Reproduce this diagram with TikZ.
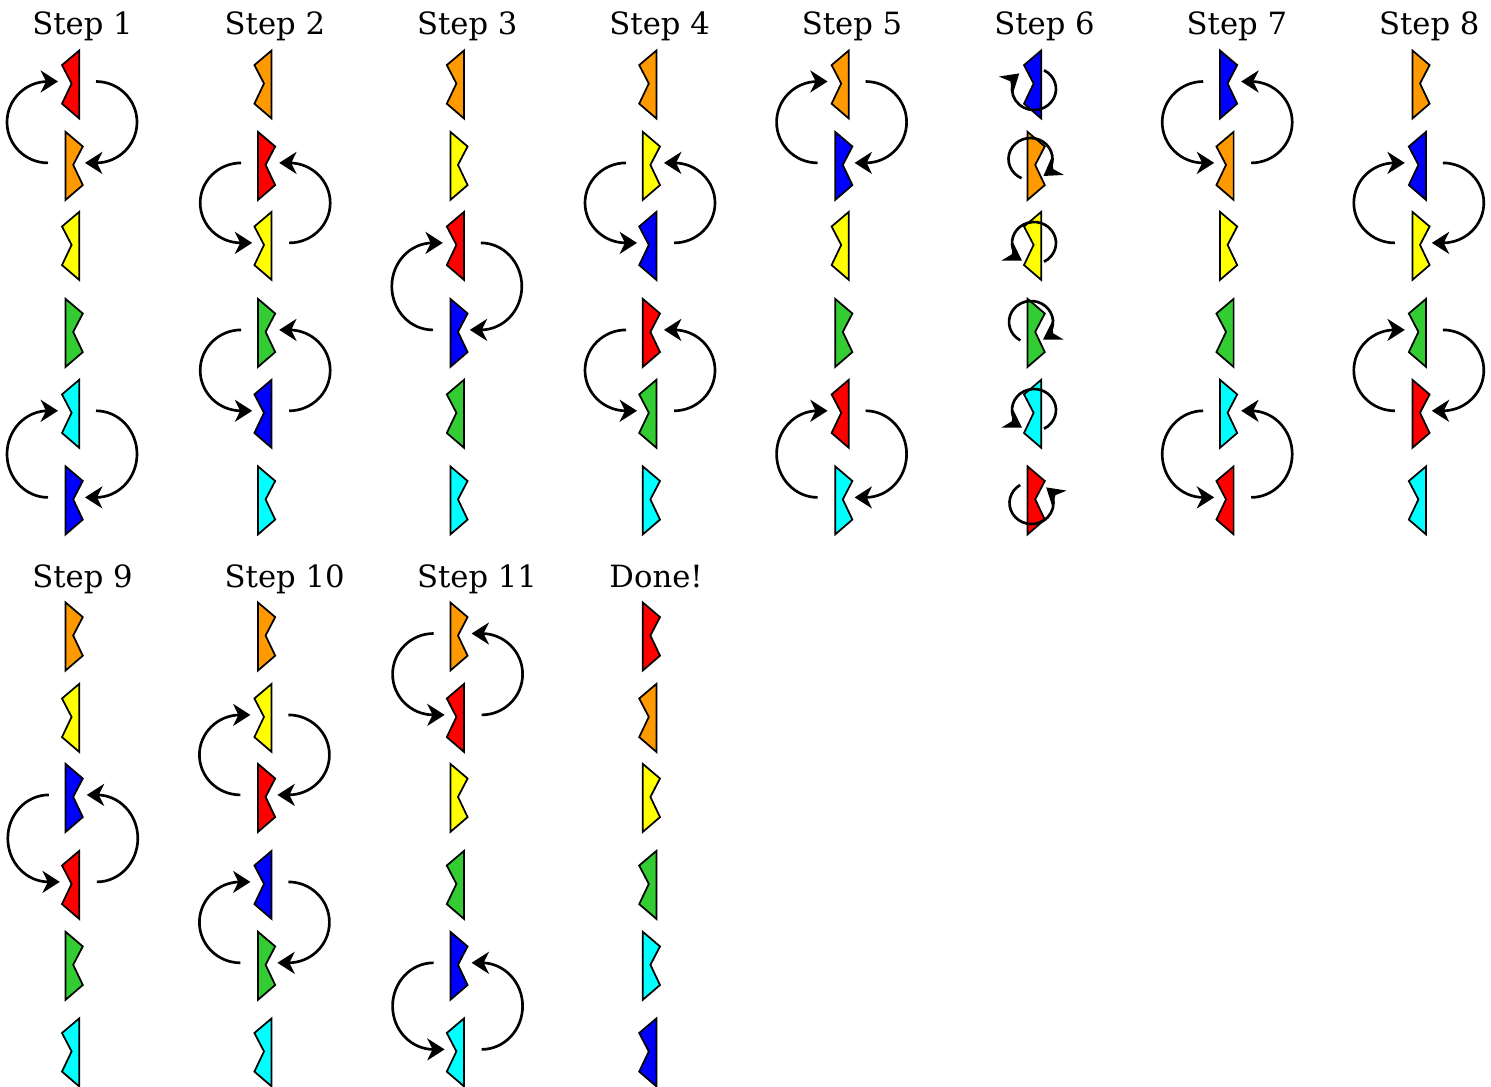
\documentclass[tikz,border=0pt]{standalone}
\usepackage{fontspec}
\setmainfont{DejaVu Serif}
\usetikzlibrary{arrows.meta}
\definecolor{pRed}{RGB}{255,0,0}
\definecolor{pOrange}{RGB}{255,153,0}
\definecolor{pYellow}{RGB}{255,255,0}
\definecolor{pGreen}{RGB}{51,204,51}
\definecolor{pCyan}{RGB}{0,255,255}
\definecolor{pBlue}{RGB}{0,0,255}
\tikzset{
  piece/.style={draw=black, line width=1.3pt, line join=miter},
  swaparrow/.style={line width=2pt, -{Stealth[length=13pt,width=16.5pt,inset=4pt]}},
  rotarrow/.style={line width=2pt, -{Stealth[length=13pt,width=16pt,inset=4pt]}},
  steplabel/.style={font=\fontsize{23}{27}\selectfont, anchor=base west, inner sep=0pt},
}
\begin{document}
\begin{tikzpicture}[x=0.75pt,y=0.75pt]
\useasboundingbox (0,0) rectangle (1491,-1087);
\foreach \k/\roff/\ttl/\pcs/\sw in {
 0/0/{Step 1}/{pRed/-1,pOrange/1,pYellow/-1,pGreen/1,pCyan/-1,pBlue/1}/{1,5},
 1/0/{Step 2}/{pOrange/-1,pRed/1,pYellow/-1,pGreen/1,pBlue/-1,pCyan/1}/{-2,-4},
 2/0/{Step 3}/{pOrange/-1,pYellow/1,pRed/-1,pBlue/1,pGreen/-1,pCyan/1}/{3},
 3/0/{Step 4}/{pOrange/-1,pYellow/1,pBlue/-1,pRed/1,pGreen/-1,pCyan/1}/{-2,-4},
 4/0/{Step 5}/{pOrange/-1,pBlue/1,pYellow/-1,pGreen/1,pRed/-1,pCyan/1}/{1,5},
 5/0/{Step 6}/{pBlue/-1,pOrange/1,pYellow/-1,pGreen/1,pCyan/-1,pRed/1}/{0},
 6/0/{Step 7}/{pBlue/1,pOrange/-1,pYellow/1,pGreen/-1,pCyan/1,pRed/-1}/{-1,-5},
 7/0/{Step 8}/{pOrange/1,pBlue/-1,pYellow/1,pGreen/-1,pRed/1,pCyan/-1}/{2,4},
 0/552/{Step 9}/{pOrange/1,pYellow/-1,pBlue/1,pRed/-1,pGreen/1,pCyan/-1}/{-3},
 1/552/{Step 10}/{pOrange/1,pYellow/-1,pRed/1,pBlue/-1,pGreen/1,pCyan/-1}/{2,4},
 2/552/{Step 11}/{pOrange/1,pRed/-1,pYellow/1,pGreen/-1,pBlue/1,pCyan/-1}/{-1,-5},
 3/552/{Done!}/{pRed/1,pOrange/-1,pYellow/1,pGreen/-1,pCyan/1,pBlue/-1}/{0}}
{
  \pgfmathsetmacro\X{72.4+192.4*\k}
  \node[steplabel] (t-\k-\roff) at (\X-40.4,-35-\roff) {\ttl};
  \foreach \col/\dr [count=\ii] in \pcs {
    \pgfmathsetmacro\Y{{84.5,165.9,245.9,332.9,413.8,500.4}[\ii-1]+\roff}
    \coordinate (p-\k-\roff-\ii) at (\X,-\Y);
    \filldraw[piece, fill=\col, shift={(p-\k-\roff-\ii)}]
      (-6.8*\dr,34) -- (10.4*\dr,19.4) -- (0.8*\dr,1) -- (10.4*\dr,-19.2) -- (-6.8*\dr,-34) -- cycle;
  }
  \foreach \j in \sw {
    \ifnum\j=0\else
      \pgfmathtruncatemacro\jj{abs(\j)}
      \pgfmathsetmacro\yu{{84.5,165.9,245.9,332.9,413.8,500.4}[\jj-1]+\roff-3}
      \pgfmathsetmacro\yl{{84.5,165.9,245.9,332.9,413.8,500.4}[\jj]+\roff-3}
      \pgfmathsetmacro\ry{(\yl-\yu)/2}
      \ifnum\j>0
        \coordinate (la-\k-\roff-\jj) at (\X-24.4,-\yl);
        \coordinate (ra-\k-\roff-\jj) at (\X+23.6,-\yu);
        \draw[swaparrow] (la-\k-\roff-\jj) arc[start angle=270,end angle=90,x radius=41,y radius=\ry] -- ++(10,0);
        \draw[swaparrow] (ra-\k-\roff-\jj) arc[start angle=90,end angle=-90,x radius=41,y radius=\ry] -- ++(-11,0);
      \else
        \coordinate (la-\k-\roff-\jj) at (\X-23.6,-\yu);
        \coordinate (ra-\k-\roff-\jj) at (\X+24.4,-\yl);
        \draw[swaparrow] (la-\k-\roff-\jj) arc[start angle=90,end angle=270,x radius=41,y radius=\ry] -- ++(11,0);
        \draw[swaparrow] (ra-\k-\roff-\jj) arc[start angle=-90,end angle=90,x radius=41,y radius=\ry] -- ++(-10,0);
      \fi
    \fi
  }
}
% Step 6: in-place flips
\foreach \ii/\cx/\cy/\sa/\ea in {1/1034/89/63/-228, 2/1030.5/159/246/-54, 3/1034/243/-63/237, 4/1031/322/241/-57, 5/1034/410/-63/237, 6/1031.5/503/121/408} {
  \coordinate (rc-\ii) at (\cx,-\cy);
  \draw[rotarrow] (rc-\ii) ++(\sa:22 and 21) arc[start angle=\sa,end angle=\ea,x radius=22,y radius=21];
}
\end{tikzpicture}
\end{document}
